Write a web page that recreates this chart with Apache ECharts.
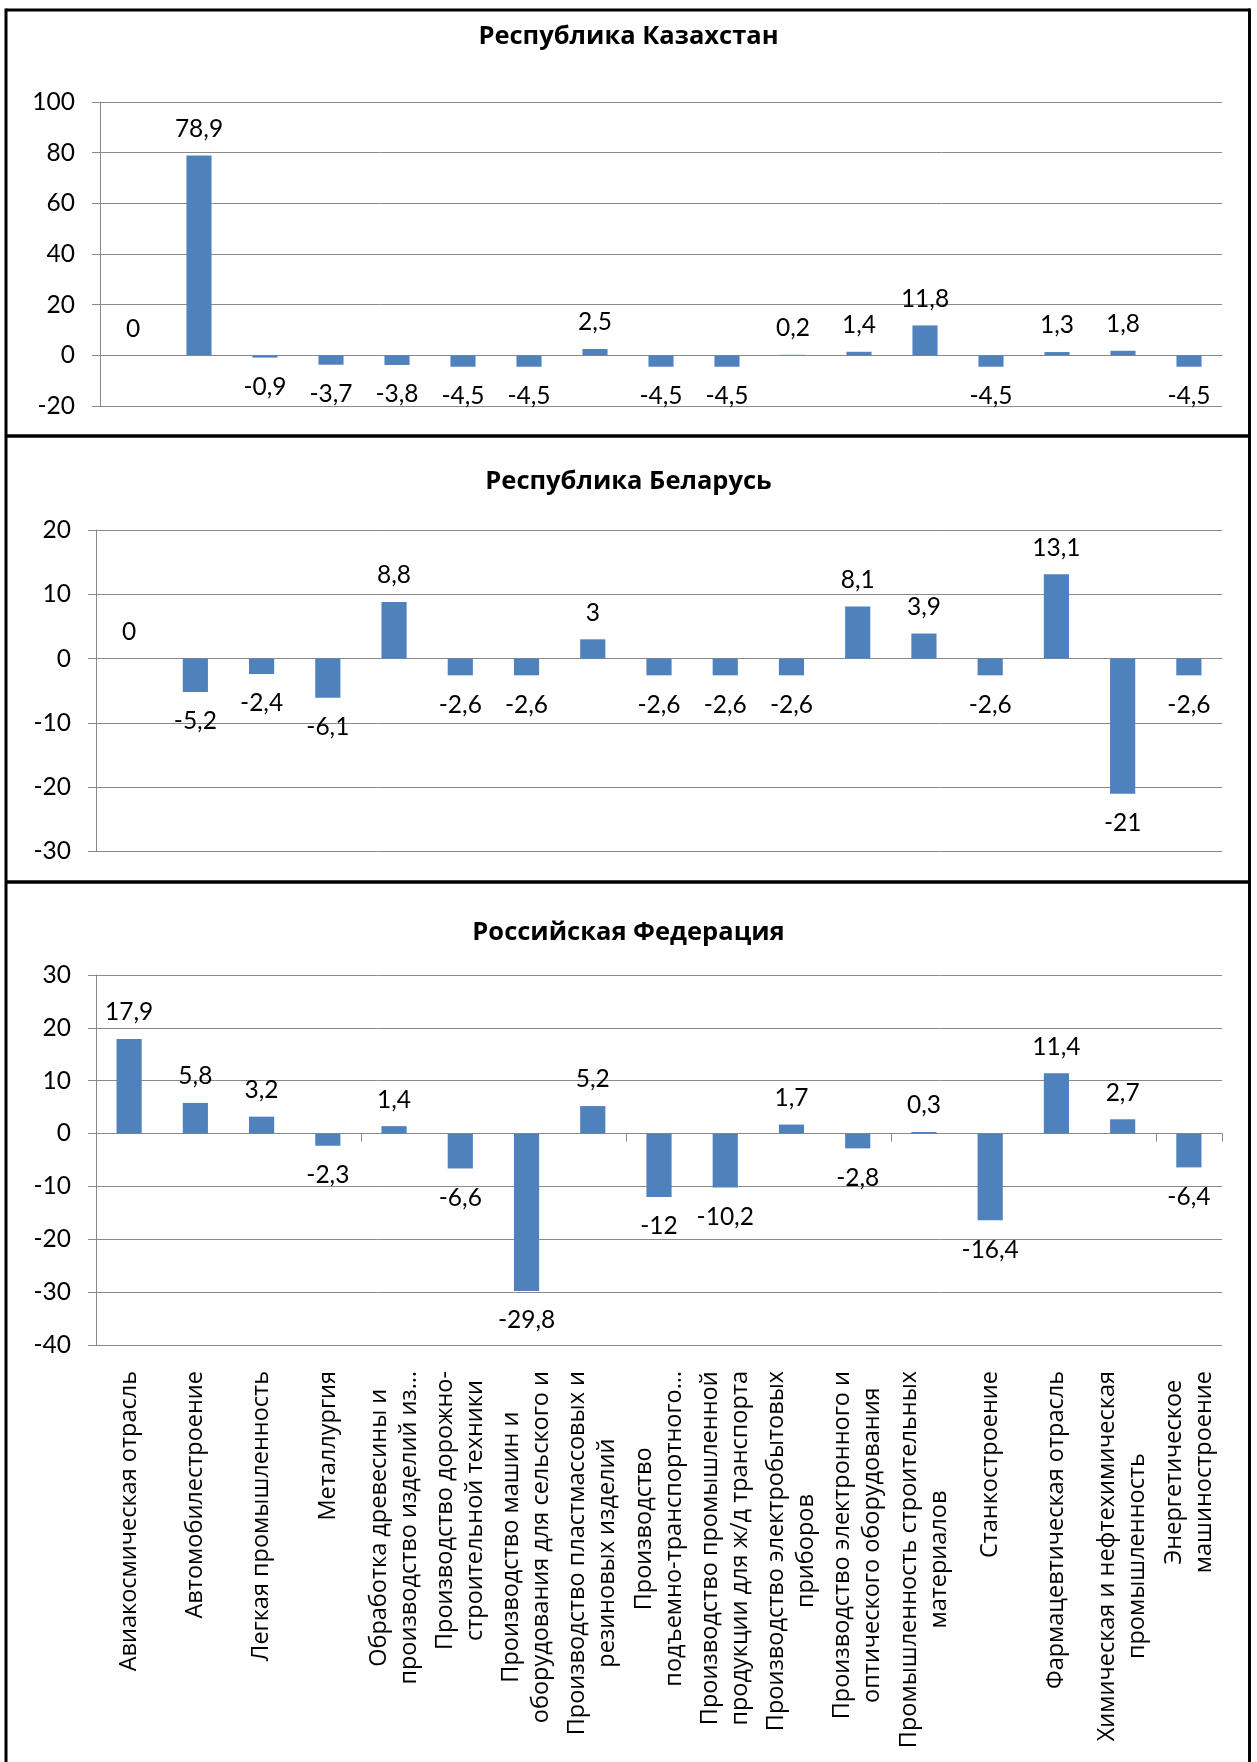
<!DOCTYPE html>
<html>
<head>
<meta charset="utf-8">
<script src="https://cdn.jsdelivr.net/npm/echarts@6/dist/echarts.min.js"></script>
<style>
html,body{margin:0;padding:0;background:#fff;}
#c{width:1257px;height:1762px;}
</style>
</head>
<body>
<div id="c"></div>
<script>
// ---------- DATA ----------
const titles = ['Республика Казахстан', 'Республика Беларусь', 'Российская Федерация'];

const categories = [
  'Авиакосмическая отрасль',
  'Автомобилестроение',
  'Легкая промышленность',
  'Металлургия',
  'Обработка древесины и\nпроизводство изделий из…',
  'Производство дорожно-\nстроительной техники',
  'Производство машин и\nоборудования для сельского и',
  'Производство пластмассовых и\nрезиновых изделий',
  'Производство\nподъемно-транспортного…',
  'Производство промышленной\nпродукции для ж/д транспорта',
  'Производство электробытовых\nприборов',
  'Производство электронного и\nоптического оборудования',
  'Промышленность строительных\nматериалов',
  'Станкостроение',
  'Фармацевтическая отрасль',
  'Химическая и нефтехимическая\nпромышленность',
  'Энергетическое\nмашиностроение'
];

const kzValues = [0, 78.9, -0.9, -3.7, -3.8, -4.5, -4.5, 2.5, -4.5, -4.5, 0.2, 1.4, 11.8, -4.5, 1.3, 1.8, -4.5];
const byValues = [0, -5.2, -2.4, -6.1, 8.8, -2.6, -2.6, 3, -2.6, -2.6, -2.6, 8.1, 3.9, -2.6, 13.1, -21, -2.6];
const ruValues = [17.9, 5.8, 3.2, -2.3, 1.4, -6.6, -29.8, 5.2, -12, -10.2, 1.7, -2.8, 0.3, -16.4, 11.4, 2.7, -6.4];

const kzAxis = { min: -20, max: 100, interval: 20 };
const byAxis = { min: -30, max: 20, interval: 10 };
const ruAxis = { min: -40, max: 30, interval: 10 };

// ---------- STYLE / LAYOUT ----------
const FONT_NUM = 'Lato, "Open Sans", sans-serif';
const FONT_TXT = '"Open Sans", "Noto Sans", sans-serif';
const GRAY = '#898989';
const BLUE = '#4F81BD';

const panels = [
  { title: titles[0], values: kzValues, axis: kzAxis, grid: { left: 100, right: 35, top: 102, height: 304 }, titleTop: 19, ticks: false, labels: false },
  { title: titles[1], values: byValues, axis: byAxis, grid: { left: 96, right: 35, top: 530, height: 321.5 }, titleTop: 464, ticks: false, labels: false },
  { title: titles[2], values: ruValues, axis: ruAxis, grid: { left: 96, right: 35, top: 975, height: 370 }, titleTop: 915, ticks: true, labels: true }
];

const fmt = v => String(v).replace('.', ',');

const option = {
  animation: false,
  backgroundColor: '#fff',
  title: panels.map(p => ({
    text: p.title, left: 'center', top: p.titleTop,
    textStyle: { fontFamily: FONT_TXT, fontWeight: 'bold', fontSize: 25.5, color: '#000' }
  })),
  grid: panels.map(p => Object.assign({ containLabel: false }, p.grid)),
  xAxis: [],
  yAxis: [],
  series: [],
  graphic: [
    { type: 'line', shape: { x1: 6, y1: 10, x2: 1250, y2: 10 }, style: { stroke: '#000', lineWidth: 3 } },
    { type: 'line', shape: { x1: 6, y1: 8.5, x2: 6, y2: 1762 }, style: { stroke: '#000', lineWidth: 3 } },
    { type: 'line', shape: { x1: 1249.5, y1: 8.5, x2: 1249.5, y2: 1762 }, style: { stroke: '#000', lineWidth: 3 } },
    { type: 'line', shape: { x1: 6, y1: 436, x2: 1250, y2: 436 }, style: { stroke: '#000', lineWidth: 3.5 } },
    { type: 'line', shape: { x1: 6, y1: 882, x2: 1250, y2: 882 }, style: { stroke: '#000', lineWidth: 3.5 } }
  ]
};

panels.forEach((p, i) => {
  option.yAxis.push({
    type: 'value', gridIndex: i,
    min: p.axis.min, max: p.axis.max, interval: p.axis.interval,
    axisLine: { show: true, lineStyle: { color: GRAY, width: 1 } },
    axisTick: { show: true, length: 8, lineStyle: { color: GRAY, width: 1 } },
    splitLine: { show: true, lineStyle: { color: GRAY, width: 1 } },
    axisLabel: { margin: 25, fontFamily: FONT_NUM, fontSize: 24.5, color: '#000' }
  });
  const barAxisIndex = option.xAxis.length;
  option.xAxis.push({
    type: 'category', gridIndex: i, data: categories, position: 'bottom',
    axisLine: { show: true, onZero: true, lineStyle: { color: GRAY, width: 1 } },
    axisTick: { show: p.ticks, length: 8, lineStyle: { color: GRAY, width: 1 } },
    axisLabel: { show: false },
    splitLine: { show: false }
  });
  if (p.labels) {
    option.xAxis.push({
      type: 'category', gridIndex: i, data: categories, position: 'bottom',
      axisLine: { show: false, onZero: false },
      axisTick: { show: false },
      splitLine: { show: false },
      axisLabel: {
        show: true, interval: 0, rotate: 90, margin: 26,
        fontFamily: FONT_TXT, fontSize: 23.5, color: '#000', lineHeight: 30,
        formatter: v => v.split('\n').map(l => '{c|' + l + '}').join('\n'),
        rich: { c: { align: 'center', fontFamily: FONT_TXT, fontSize: 23.5, lineHeight: 30, color: '#000' } }
      }
    });
  }
  option.series.push({
    type: 'bar', xAxisIndex: barAxisIndex, yAxisIndex: i,
    barCategoryGap: '62%',
    itemStyle: { color: BLUE },
    label: { show: true, fontFamily: FONT_NUM, fontSize: 24.5, color: '#000', formatter: d => fmt(d.value) },
    data: p.values.map(v => ({
      value: v,
      label: { position: v < 0 ? 'bottom' : 'top', distance: v < 0 ? 17 : 14 }
    }))
  });
});

const chart = echarts.init(document.getElementById('c'), null, { renderer: 'canvas' });
chart.setOption(option);
</script>
</body>
</html>
